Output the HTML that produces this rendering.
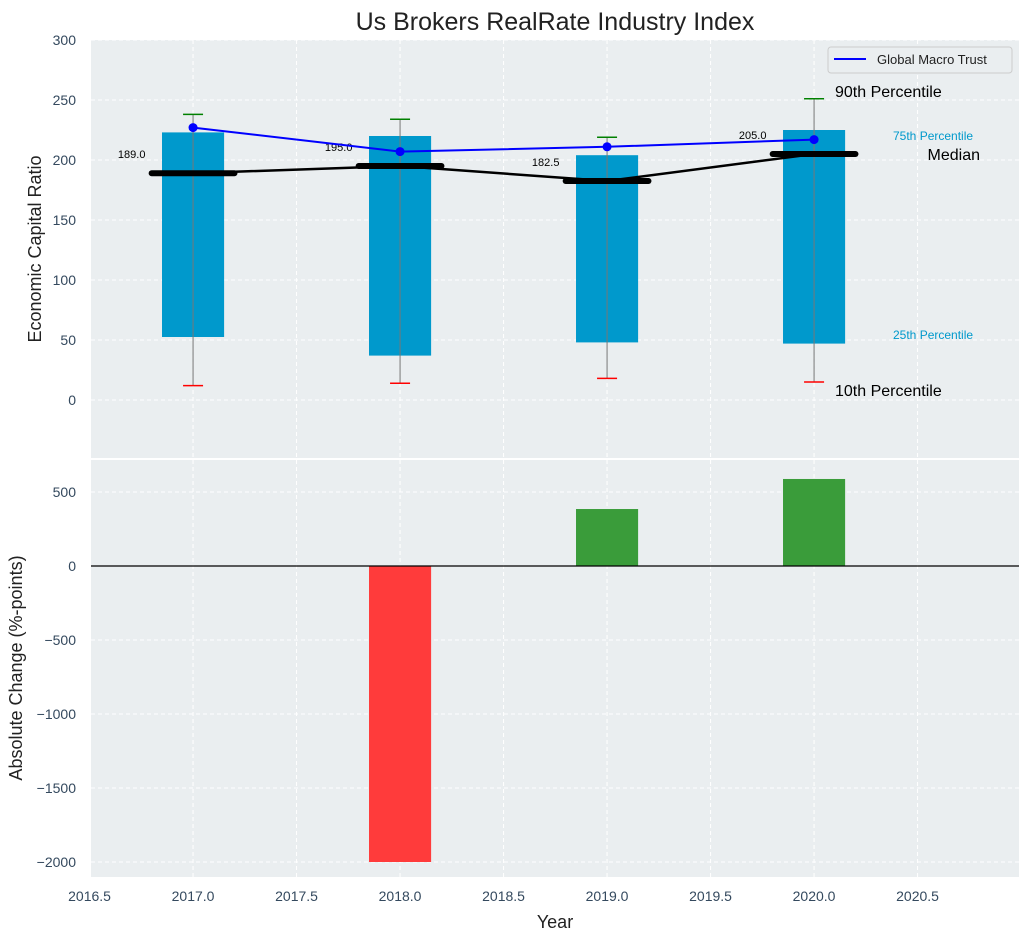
<!DOCTYPE html>
<html><head><meta charset="utf-8"><style>
body{margin:0;background:#fff;font-family:"Liberation Sans",sans-serif}
svg text{font-family:"Liberation Sans",sans-serif}
</style></head><body>
<svg id="c" width="1029" height="940" xmlns="http://www.w3.org/2000/svg"></svg>
<script>
const years=[2017,2018,2019,2020];
const p10=[12,14,18,15];
const p25=[52.5,37,48,47];
const p75=[223,220,204,225];
const p90=[238,234,219,251];
const medians=[189,195,182.5,205];
const trust=[227,207,211,217];
const changes=[0,-2000,385,588];
const topTicks=[0,50,100,150,200,250,300];
const botTicks=[-2000,-1500,-1000,-500,0,500];
const xTicks=[2016.5,2017,2017.5,2018,2018.5,2019,2019.5,2020,2020.5];

const NS="http://www.w3.org/2000/svg";
const svg=document.getElementById('c');
function el(t,a,p){const e=document.createElementNS(NS,t);for(const k in a)e.setAttribute(k,a[k]);(p||svg).appendChild(e);return e;}
const L=91,R=1019;
const X=v=>L+(v-2016.507)*(R-L)/(2020.99-2016.507);
const T0=40,T1=458, Yt=v=>400-v*1.2;
const B0=460,B1=877, Yb=v=>566-v*0.148;

let e=el('rect',{x:L,y:T0,width:R-L,height:T1-T0,fill:'#eaeef0'});

e=el('rect',{x:L,y:B0,width:R-L,height:B1-B0,fill:'#eaeef0'});


xTicks.forEach(t=>{
  [[T0,T1],[B0,B1]].forEach(([a,b])=>{const g=el('line',{x1:X(t),x2:X(t),y1:a,y2:b,stroke:'#fff','stroke-dasharray':'4,3','stroke-width':1});});
  const tx=el('text',{x:X(t),y:901,'text-anchor':'middle','font-size':14,fill:'#34495e'});tx.textContent=t.toFixed(1);
  
});
topTicks.forEach(t=>{
  const g=el('line',{x1:L,x2:R,y1:Yt(t),y2:Yt(t),stroke:'#fff','stroke-dasharray':'4,3'});
  const tx=el('text',{x:76,y:Yt(t)+5,'text-anchor':'end','font-size':14,fill:'#34495e'});tx.textContent=t;
  
});
botTicks.forEach(t=>{
  const g=el('line',{x1:L,x2:R,y1:Yb(t),y2:Yb(t),stroke:'#fff','stroke-dasharray':'4,3'});
  const tx=el('text',{x:76,y:Yb(t)+5,'text-anchor':'end','font-size':14,fill:'#34495e'});tx.textContent=t<0?'\u2212'+(-t):t;
  
});

years.forEach((y,i)=>{
  const w=X(y+0.15)-X(y-0.15);
  let r=el('rect',{x:X(y-0.15),y:Yt(p75[i]),width:w,height:Yt(p25[i])-Yt(p75[i]),fill:'#0099cc'});
  
  let l=el('line',{x1:X(y),x2:X(y),y1:Yt(p90[i]),y2:Yt(p10[i]),stroke:'#777','stroke-width':1});
  
  l=el('line',{x1:X(y)-10,x2:X(y)+10,y1:Yt(p90[i]),y2:Yt(p90[i]),stroke:'green','stroke-width':1.5});
  
  l=el('line',{x1:X(y)-10,x2:X(y)+10,y1:Yt(p10[i]),y2:Yt(p10[i]),stroke:'red','stroke-width':1.5});
  
});
let pl=el('polyline',{points:years.map((y,i)=>X(y)+','+Yt(medians[i])).join(' '),fill:'none',stroke:'#000','stroke-width':2.5});

years.forEach((y,i)=>{
  const l=el('line',{x1:X(y-0.2),x2:X(y+0.2),y1:Yt(medians[i]),y2:Yt(medians[i]),stroke:'#000','stroke-width':6,'stroke-linecap':'round'});
  
  const t=el('text',{x:X(y-0.23),y:Yt(medians[i])-15,'text-anchor':'end','font-size':11,fill:'#000'});t.textContent=medians[i].toFixed(1);
  
});
pl=el('polyline',{points:years.map((y,i)=>X(y)+','+Yt(trust[i])).join(' '),fill:'none',stroke:'#0000ff','stroke-width':2});

years.forEach((y,i)=>{const c=el('circle',{cx:X(y),cy:Yt(trust[i]),r:4.5,fill:'#0000ff'});});

const ann=[[835,97,'90th Percentile',16,'#000','start'],[893,140,'75th Percentile',12,'#0099cc','start'],[980,160,'Median',16,'#000','end'],[893,339,'25th Percentile',12,'#0099cc','start'],[835,396,'10th Percentile',16,'#000','start']];
ann.forEach(a=>{const t=el('text',{x:a[0],y:a[1],'font-size':a[3],fill:a[4],'text-anchor':a[5]});t.textContent=a[2];});

const lg=el('g',{});
el('rect',{x:828,y:47,width:184,height:26,rx:3,fill:'#eaeef0',stroke:'#ccc'},lg);
el('line',{x1:834,x2:866,y1:59,y2:59,stroke:'#0000ff','stroke-width':2},lg);
const lt=el('text',{x:877,y:64,'font-size':13,fill:'#222'},lg);lt.textContent='Global Macro Trust';

years.forEach((y,i)=>{
  const v=changes[i];
  const r=el('rect',{x:X(y-0.15),y:Math.min(Yb(v),Yb(0)),width:X(y+0.15)-X(y-0.15),height:Math.abs(Yb(v)-Yb(0)),fill:v<0?'#ff3b3b':'#3a9c3a'});
  
});
let z=el('line',{x1:L,x2:R,y1:Yb(0),y2:Yb(0),stroke:'#000','stroke-width':1.2});

let t=el('text',{x:555,y:30,'text-anchor':'middle','font-size':25,fill:'#222'});t.textContent='Us Brokers RealRate Industry Index';
t=el('text',{x:555,y:928,'text-anchor':'middle','font-size':18,fill:'#222'});t.textContent='Year';
t=el('text',{x:0,y:0,'text-anchor':'middle','font-size':18,fill:'#222',transform:'translate(41,249) rotate(-90)'});t.textContent='Economic Capital Ratio';
t=el('text',{x:0,y:0,'text-anchor':'middle','font-size':18,fill:'#222',transform:'translate(22,668) rotate(-90)'});t.textContent='Absolute Change (%-points)';
</script>
</body></html>
